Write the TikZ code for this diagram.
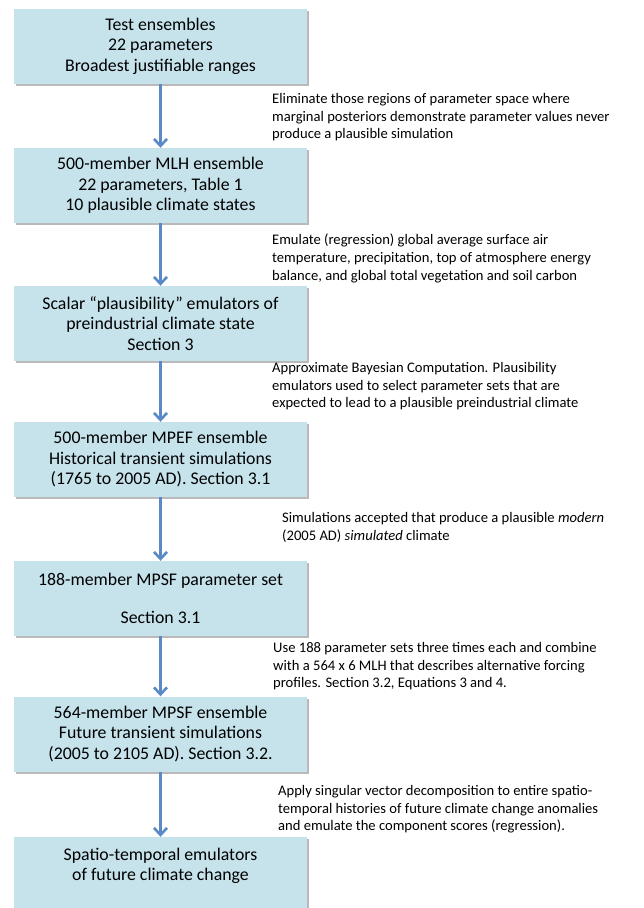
\documentclass[tikz,border=0pt]{standalone}
\usepackage{fontspec}
\setmainfont{Carlito}
\usetikzlibrary{arrows.meta,shadows}

\definecolor{boxblue}{RGB}{198,227,236}
\definecolor{arrowblue}{RGB}{90,138,198}

\begin{document}
\begin{tikzpicture}[x=1pt,y=-1pt,
    stage/.style={fill=boxblue, minimum width=293pt, minimum height=75pt, inner sep=0pt,
        align=center, font=\fontsize{17.8}{20.5}\selectfont,
        drop shadow={shadow xshift=1.5pt, shadow yshift=-2pt, fill=black!45, opacity=0.6}},
    note/.style={anchor=north west, inner sep=0pt, align=left, font=\fontsize{14.6}{17.7}\selectfont},
    flow/.style={-{Straight Barb[length=7pt,width=13pt]}, line width=2.6pt, draw=arrowblue}]

    \useasboundingbox (0,0) rectangle (644,908);

    % stages of the chain
    \node[stage] (test)   at (160.5,46)    {Test ensembles\\22 parameters\\Broadest justifiable ranges};
    \node[stage] (mlh)    at (160.5,185.5) {500-member MLH ensemble\\22 parameters, Table 1\\10 plausible climate states};
    \node[stage] (scalar) at (160.5,323.5) {Scalar “plausibility” emulators of\\preindustrial climate state\\Section 3};
    \node[stage] (mpef)   at (160.5,459.5) {500-member MPEF ensemble\\Historical transient simulations\\(1765 to 2005 AD). Section 3.1};
    \node[stage] (mpsf)   at (160.5,598.5) {188-member MPSF parameter set\\[18pt]Section 3.1};
    \node[stage] (future) at (160.5,734)   {564-member MPSF ensemble\\Future transient simulations\\(2005 to 2105 AD). Section 3.2.};
    \node[stage] (spatio) at (160.5,874.5) {Spatio-temporal emulators\\of future climate change\\ \mbox{}};

    % arrows between stages
    \draw[flow] (test)   -- (mlh);
    \draw[flow] (mlh)    -- (scalar);
    \draw[flow] (scalar) -- (mpef);
    \draw[flow] (mpef)   -- (mpsf);
    \draw[flow] (mpsf)   -- (future);
    \draw[flow] (future) -- (spatio);

    % notes beside the arrows
    \node[note] (elim)  at (272,93)  {Eliminate those regions of parameter space where\\marginal posteriors demonstrate parameter values never\\produce a plausible simulation};
    \node[note] (emul)  at (272,234) {Emulate (regression) global average surface air\\temperature, precipitation, top of atmosphere energy\\balance, and global total vegetation and soil carbon};
    \node[note] (abc)   at (272,362) {Approximate Bayesian Computation. Plausibility\\emulators used to select parameter sets that are\\expected to lead to a plausible preindustrial climate};
    \node[note] (accept) at (282,512) {Simulations accepted that produce a plausible \emph{modern}\\(2005 AD) \emph{simulated} climate};
    \node[note] (reuse) at (273,642) {Use 188 parameter sets three times each and combine\\with a 564 x 6 MLH that describes alternative forcing\\profiles. Section 3.2, Equations 3 and 4.};
    \node[note] (svd)   at (278,785) {Apply singular vector decomposition to entire spatio-\\temporal histories of future climate change anomalies\\and emulate the component scores (regression).};

\end{tikzpicture}
\end{document}
